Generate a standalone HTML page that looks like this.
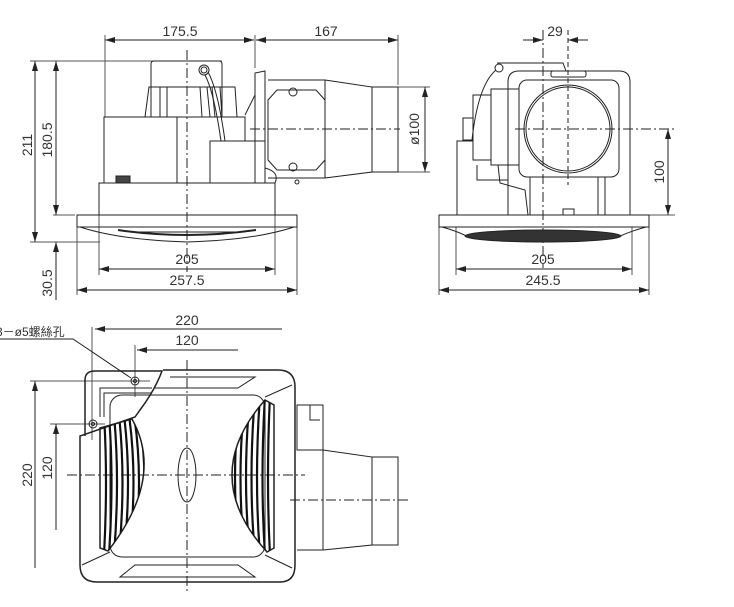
<!DOCTYPE html>
<html><head><meta charset="utf-8"><style>
html,body{margin:0;padding:0;background:#fff}
svg{display:block}
text{font-family:"Liberation Sans","Noto Sans CJK TC",sans-serif;font-size:14px;fill:#333}
</style></head><body>
<svg width="734" height="607" viewBox="0 0 734 607" xmlns="http://www.w3.org/2000/svg">
<defs>
<marker id="a" viewBox="0 0 10 6" refX="10" refY="3" markerWidth="10" markerHeight="6" orient="auto-start-reverse" markerUnits="userSpaceOnUse"><path d="M0,0 L10,3 L0,6 Z" fill="#222"/></marker>
<clipPath id="gl"><path d="M100,428 L132,419 Q165,478 108,551 L100,548 Z"/></clipPath>
<clipPath id="gr"><path d="M265,400 Q198,476 267,552 L274,548 L274,405 Z"/></clipPath>
</defs>
<g fill="none" stroke="#222" stroke-width="1">
<!-- ===== TOP LEFT VIEW ===== -->
<!-- dims -->
<line x1="105" y1="35" x2="105" y2="117" stroke="#555"/>
<line x1="255" y1="35" x2="255" y2="68" stroke="#555"/>
<line x1="398" y1="35" x2="398" y2="85" stroke="#555"/>
<line x1="105" y1="40" x2="254" y2="40" marker-start="url(#a)" marker-end="url(#a)"/>
<line x1="256" y1="40" x2="398" y2="40" marker-start="url(#a)" marker-end="url(#a)"/>
<line x1="30" y1="61" x2="222" y2="61" stroke="#555"/>
<line x1="53" y1="215" x2="75" y2="215" stroke="#555"/>
<line x1="30" y1="242" x2="100" y2="242" stroke="#555"/>
<line x1="35" y1="61" x2="35" y2="242" marker-start="url(#a)" marker-end="url(#a)"/>
<line x1="56" y1="61" x2="56" y2="215" marker-start="url(#a)" marker-end="url(#a)"/>
<line x1="56" y1="242" x2="56" y2="300" marker-start="url(#a)"/>
<line x1="99" y1="183" x2="99" y2="275" stroke="#555"/>
<line x1="275" y1="215" x2="275" y2="275" stroke="#555"/>
<line x1="77" y1="227" x2="77" y2="295" stroke="#555"/>
<line x1="297" y1="227" x2="297" y2="295" stroke="#555"/>
<line x1="99" y1="269" x2="275" y2="269" marker-start="url(#a)" marker-end="url(#a)"/>
<line x1="77" y1="290" x2="297" y2="290" marker-start="url(#a)" marker-end="url(#a)"/>
<line x1="372" y1="87" x2="430" y2="87" stroke="#555"/>
<line x1="372" y1="172" x2="430" y2="172" stroke="#555"/>
<line x1="425" y1="87" x2="425" y2="172" marker-start="url(#a)" marker-end="url(#a)"/>
<line x1="187" y1="50" x2="187" y2="272" stroke-dasharray="10,3,2,3"/>
<line x1="250" y1="129" x2="400" y2="129" stroke-dasharray="10,3,2,3"/>
<!-- body -->
<path d="M151,117 L151,64 Q151,61 154,61 L219,61 Q222,61 222,64 L222,117"/>
<path d="M145,117 L149,87 L235,87 L237,117"/>
<line x1="160" y1="87" x2="160" y2="117"/><line x1="167" y1="87" x2="167" y2="117"/>
<line x1="200" y1="87" x2="202" y2="117"/><line x1="207" y1="87" x2="210" y2="117"/>
<line x1="212" y1="87" x2="215" y2="117"/><line x1="220" y1="87" x2="222" y2="117"/>
<circle cx="204" cy="70" r="5"/><circle cx="204" cy="70" r="3"/>
<path d="M208,72 Q218,90 225,141"/><path d="M205,75 Q214,92 221,141"/>
<rect x="104" y="117" width="73" height="66"/>
<path d="M177,117 L245,117 L245,141"/>
<rect x="210" y="141" width="55" height="42"/>
<rect x="116" y="176" width="14" height="7" fill="#444"/>
<rect x="99" y="183" width="176" height="32"/>
<rect x="77" y="215" width="220" height="12"/>
<path d="M80,227 Q120,240 187,242 Q255,240 294,227"/>
<path d="M118,230 Q187,240 256,230" stroke-width="2"/>
<path d="M130,232 L245,232"/>
<!-- duct side -->
<path d="M255,183 L255,73 L265,71 L265,183 Z"/>
<path d="M245,115 L255,95"/>
<path d="M268,100 L277,90 L316,90 L325,100 L325,160 L316,170 L277,170 L268,160 Z"/>
<circle cx="293" cy="92" r="4"/><circle cx="293" cy="167" r="4"/>
<circle cx="297" cy="182" r="2"/>
<path d="M265,168 Q280,172 275,183"/>
<path d="M268,80 L325,80 L325,178 L268,178"/>
<path d="M325,80 L372,87 L372,172 L325,178"/>
<rect x="372" y="87" width="26" height="85"/>
<!-- ===== TOP RIGHT VIEW ===== -->
<line x1="543" y1="30" x2="543" y2="268" stroke-dasharray="10,3,2,3"/>
<line x1="568" y1="30" x2="568" y2="185" stroke-dasharray="5,3"/>
<line x1="523" y1="40" x2="543" y2="40" marker-end="url(#a)"/>
<line x1="588" y1="40" x2="568" y2="40" marker-end="url(#a)"/>
<line x1="515" y1="129" x2="675" y2="129" stroke-dasharray="10,3,2,3"/>
<line x1="649" y1="215" x2="675" y2="215" stroke="#555"/>
<line x1="668" y1="129" x2="668" y2="215" marker-start="url(#a)" marker-end="url(#a)"/>
<line x1="456" y1="227" x2="456" y2="275" stroke="#555"/>
<line x1="632" y1="227" x2="632" y2="275" stroke="#555"/>
<line x1="439" y1="227" x2="439" y2="295" stroke="#555"/>
<line x1="649" y1="227" x2="649" y2="295" stroke="#555"/>
<line x1="456" y1="269" x2="632" y2="269" marker-start="url(#a)" marker-end="url(#a)"/>
<line x1="439" y1="290" x2="649" y2="290" marker-start="url(#a)" marker-end="url(#a)"/>
<path d="M508,215 L508,82 Q508,71 519,71 L619,71 Q630,71 630,82 L630,215"/>
<rect x="519" y="80" width="100" height="97" rx="8"/>
<rect x="551" y="71" width="35" height="6" rx="2"/>
<circle cx="568" cy="129" r="44"/><circle cx="568" cy="129" r="42"/>
<path d="M497,63 L563,63 L566,71"/>
<circle cx="499" cy="68" r="4"/>
<path d="M496,70 Q478,85 472,140"/>
<rect x="491" y="89" width="28" height="76"/>
<rect x="473" y="95" width="18" height="65"/>
<path d="M457,215 L457,141 L473,141"/>
<rect x="463" y="118" width="10" height="22"/>
<path d="M477,165 L477,180 L508,180"/>
<path d="M498,165 L500,183 L525,190 L528,215"/>
<path d="M530,177 L530,215 M598,177 L598,215 M605,177 L605,215"/>
<rect x="563" y="209" width="11" height="6"/>
<rect x="439" y="215" width="210" height="12"/>
<path d="M442,227 Q460,232 470,238 L616,238 Q628,232 646,227"/>
<ellipse cx="543" cy="236" rx="78" ry="6" fill="#333"/>
<!-- ===== BOTTOM VIEW ===== -->
<line x1="92" y1="327" x2="92" y2="440" stroke="#555"/>
<line x1="135" y1="345" x2="135" y2="397" stroke="#555"/>
<line x1="95" y1="329" x2="282" y2="329" marker-start="url(#a)"/>
<line x1="137" y1="350" x2="238" y2="350" marker-start="url(#a)"/>
<line x1="30" y1="381" x2="150" y2="381" stroke="#555"/>
<line x1="50" y1="424" x2="105" y2="424" stroke="#555"/>
<line x1="35" y1="381" x2="35" y2="568" marker-start="url(#a)"/>
<line x1="56" y1="424" x2="56" y2="530" marker-start="url(#a)"/>
<path d="M0,339 L73,339 L131,378"/>
<line x1="187" y1="360" x2="187" y2="592" stroke-dasharray="10,3,2,3"/>
<line x1="67" y1="475" x2="305" y2="475" stroke-dasharray="10,3,2,3"/>
<line x1="290" y1="500" x2="410" y2="500" stroke-dasharray="10,3,2,3"/>
<path d="M85,436 L85,380 Q85,371 95,371 L162,371 Q155,390 140,410 L135,417 L80,436 L80,565 Q80,582 97,582 L280,582 Q295,582 295,565 L295,387 Q295,370 278,370 L163,370" stroke-width="1.5"/>
<path d="M100,417 L100,388 L152,388"/>
<path d="M104,417 L104,393 L151,393"/>
<rect x="110" y="395" width="155" height="162" rx="12"/>
<line x1="82" y1="565" x2="110" y2="552"/><line x1="292" y1="385" x2="265" y2="397"/>
<line x1="292" y1="568" x2="265" y2="555"/>
<path d="M170,377 L255,377 L238,388 L155,388"/>
<path d="M120,577 L255,577 L238,565 L135,565 Z"/>
<circle cx="135" cy="381" r="4"/><circle cx="135" cy="381" r="1.5"/>
<circle cx="93" cy="424" r="4"/><circle cx="93" cy="424" r="1.5"/>
<ellipse cx="187" cy="475" rx="9" ry="27"/>
<path d="M100,428 L132,419 Q165,478 108,551 L100,548 Z" stroke-width="1.5"/>
<g clip-path="url(#gl)" stroke="#111" stroke-width="2.2">
<path d="M104,415 Q108,480 104,555"/><path d="M109,415 Q114,480 109,555"/>
<path d="M114,415 Q120,480 114,555"/><path d="M119,415 Q126,480 119,555"/>
<path d="M124,415 Q132,480 124,555"/><path d="M129,415 Q138,480 129,555"/>
<path d="M134,415 Q144,480 134,555"/><path d="M139,415 Q150,480 139,555"/>
<path d="M144,415 Q156,480 144,555"/>
</g>
<path d="M265,400 Q198,476 267,552 L274,548 L274,405 Z" stroke-width="1.5"/>
<g clip-path="url(#gr)" stroke="#111" stroke-width="2.2">
<path d="M270,395 Q266,480 270,555"/><path d="M265,395 Q260,480 265,555"/>
<path d="M260,395 Q254,480 260,555"/><path d="M255,395 Q248,480 255,555"/>
<path d="M250,395 Q242,480 250,555"/><path d="M245,395 Q236,480 245,555"/>
<path d="M240,395 Q230,480 240,555"/><path d="M235,395 Q224,480 235,555"/>
<path d="M230,395 Q218,480 230,555"/>
</g>
<rect x="297" y="405" width="26" height="45"/>
<path d="M310,405 L310,420 L320,420"/>
<path d="M297,450 L323,450 L323,550 M297,550 L323,550"/>
<path d="M323,450 L372,457 L372,545 L323,550"/>
<rect x="372" y="457" width="26" height="88"/>
</g>
<!-- text -->
<text x="180" y="36" text-anchor="middle">175.5</text>
<text x="326" y="36" text-anchor="middle">167</text>
<text x="187" y="264" text-anchor="middle">205</text>
<text x="187" y="285" text-anchor="middle">257.5</text>
<text transform="translate(32,145) rotate(-90)" text-anchor="middle">211</text>
<text transform="translate(52,140) rotate(-90)" text-anchor="middle">180.5</text>
<text transform="translate(52,283) rotate(-90)" text-anchor="middle">30.5</text>
<text transform="translate(419,129) rotate(-90)" text-anchor="middle">ø100</text>
<text x="555" y="36" text-anchor="middle">29</text>
<text transform="translate(664,172) rotate(-90)" text-anchor="middle">100</text>
<text x="543" y="264" text-anchor="middle">205</text>
<text x="543" y="285" text-anchor="middle">245.5</text>
<text x="187" y="325" text-anchor="middle">220</text>
<text x="187" y="345" text-anchor="middle">120</text>
<text x="-4" y="336" style="font-size:12px">3－ø5螺絲孔</text>
<text transform="translate(32,475) rotate(-90)" text-anchor="middle">220</text>
<text transform="translate(52,468) rotate(-90)" text-anchor="middle">120</text>
</svg>
</body></html>
